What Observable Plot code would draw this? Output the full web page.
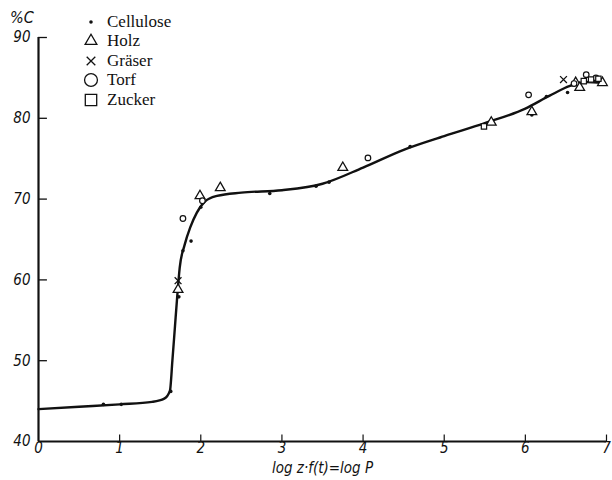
<!DOCTYPE html>
<html>
<head>
<meta charset="utf-8">
<script src="https://cdn.jsdelivr.net/npm/d3@7"></script>
<script src="https://cdn.jsdelivr.net/npm/@observablehq/plot@0.6"></script>
<style>
  html, body { margin: 0; padding: 0; background: #fff; }
  #wrap { position: relative; width: 612px; height: 480px; }
  #legend { position: absolute; left: 80px; top: 12px; font-family: "Liberation Serif", "DejaVu Serif", serif; font-size: 17px; color: #111; }
  #legend .row { display: flex; align-items: center; height: 19.5px; }
  #legend svg { width: 22px; height: 18px; margin-right: 5px; }
  #ylab { position: absolute; left: 10px; top: 8px; font-family: "Liberation Sans Narrow", "DejaVu Sans Condensed", sans-serif; font-style: italic; font-size: 16px; color: #111; }
</style>
</head>
<body>
<div id="wrap">
  <div id="chart"></div>
  <div id="ylab">%C</div>
  <div id="legend"></div>
</div>
<script>
// Curve (smooth fit)
const curveX = [0, 0.5, 1.0, 1.4, 1.55, 1.62, 1.65, 1.68, 1.71, 1.74, 1.8, 1.87, 1.95, 2.05, 2.2, 2.5, 3.0, 3.5, 4.0, 4.5, 5.0, 5.5, 6.0, 6.3, 6.55, 6.75, 6.95];
const curveY = [44.0, 44.3, 44.6, 44.9, 45.3, 46.3, 50, 54, 58, 61.5, 64.3, 66.5, 68.3, 69.7, 70.4, 70.8, 71.1, 71.9, 73.9, 76.1, 77.8, 79.4, 81.2, 82.8, 84.0, 84.5, 84.4];

// Measured points by material
const celluloseX = [0.8, 1.02, 1.63, 1.73, 1.78, 1.88, 2.0, 2.85, 3.42, 3.58, 4.58, 6.08, 6.52, 6.26];
const celluloseY = [44.6, 44.6, 46.2, 57.9, 63.6, 64.8, 69.0, 70.7, 71.6, 72.1, 76.5, 80.4, 83.2, 82.7];
const holzX = [1.72, 1.99, 2.24, 3.75, 5.58, 6.08, 6.62, 6.67, 6.95];
const holzY = [58.8, 70.4, 71.4, 73.9, 79.5, 80.8, 84.4, 83.8, 84.4];
const graeserX = [1.72, 6.47];
const graeserY = [59.9, 84.8];
const torfX = [1.78, 2.02, 4.06, 6.04, 6.6, 6.75, 6.87];
const torfY = [67.6, 69.8, 75.1, 82.9, 84.3, 85.4, 85.0];
const zuckerX = [5.49, 6.72, 6.81, 6.9];
const zuckerY = [79.0, 84.6, 84.8, 84.9];

const xTicks = [0, 1, 2, 3, 4, 5, 6, 7];
const yTicks = [40, 50, 60, 70, 80, 90];
const legendLabels = ["Cellulose", "Holz", "Gräser", "Torf", "Zucker"];

const curve = curveX.map((x, i) => ({x, y: curveY[i]}));
const pts = (xs, ys) => xs.map((x, i) => ({x, y: ys[i]}));

const tickFont = '"Liberation Sans Narrow", "DejaVu Sans Condensed", sans-serif';

const chart = Plot.plot({
  width: 612,
  height: 480,
  marginLeft: 38,
  marginRight: 6,
  marginTop: 37,
  marginBottom: 39,
  style: {fontFamily: tickFont, fontSize: "15px", fontStyle: "italic", color: "#111", background: "#fff"},
  x: {domain: [0, 7]},
  y: {domain: [40, 90]},
  marks: [
    Plot.axisX(xTicks, {tickSize: 0, tickPadding: 1, label: null, fontSize: 15}),
    Plot.axisY(yTicks, {tickSize: 0, tickPadding: 8, label: null, fontSize: 15}),
    Plot.ruleY(yTicks.slice(1), {x1: 0, x2: 0.11, stroke: "#111", strokeWidth: 1.3}),
    Plot.ruleX(xTicks.slice(1), {y1: 40, y2: 40.8, stroke: "#111", strokeWidth: 1.2}),
    Plot.ruleX([0], {stroke: "#111", strokeWidth: 2.2}),
    Plot.ruleY([40], {stroke: "#111", strokeWidth: 2}),
    Plot.line(curve, {x: "x", y: "y", curve: "monotone-x", stroke: "#111", strokeWidth: 2.4}),
    Plot.dot(pts(celluloseX, celluloseY), {x: "x", y: "y", r: 1.8, fill: "#111", stroke: "none"}),
    Plot.dot(pts(holzX, holzY), {x: "x", y: "y", symbol: "triangle", r: 3.6, stroke: "#111", strokeWidth: 1.3, fill: "white"}),
    Plot.dot(pts(graeserX, graeserY), {x: "x", y: "y", symbol: "times", r: 3.2, stroke: "#111", strokeWidth: 1.3}),
    Plot.dot(pts(torfX, torfY), {x: "x", y: "y", symbol: "circle", r: 2.8, stroke: "#111", strokeWidth: 1.2, fill: "white"}),
    Plot.dot(pts(zuckerX, zuckerY), {x: "x", y: "y", symbol: "square", r: 3.0, stroke: "#111", strokeWidth: 1.2, fill: "white"}),
    Plot.text(["log z·f(t)=log P"], {frameAnchor: "bottom", dy: 31, fontSize: 15, fontStyle: "italic", fill: "#111"})
  ]
});
document.getElementById("chart").appendChild(chart);

// Legend
const legendSymbols = [
  {type: d3.symbolCircle, size: 10, fill: "#111", stroke: "none"},
  {type: d3.symbolTriangle, size: 60, fill: "none", stroke: "#111"},
  {type: d3.symbolTimes, size: 50, fill: "none", stroke: "#111"},
  {type: d3.symbolCircle, size: 130, fill: "none", stroke: "#111"},
  {type: d3.symbolSquare, size: 130, fill: "none", stroke: "#111"}
];
const leg = d3.select("#legend");
legendLabels.forEach((lab, i) => {
  const row = leg.append("div").attr("class", "row");
  const s = row.append("svg");
  s.append("path")
    .attr("transform", "translate(11,9)")
    .attr("d", d3.symbol(legendSymbols[i].type, legendSymbols[i].size)())
    .attr("fill", legendSymbols[i].fill)
    .attr("stroke", legendSymbols[i].stroke)
    .attr("stroke-width", 1.3);
  row.append("span").text(lab);
});
</script>
</body>
</html>
